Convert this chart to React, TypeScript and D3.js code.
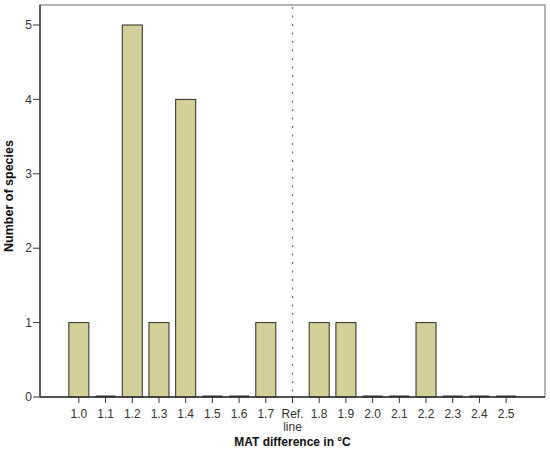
import React from "react";
import * as d3 from "d3";

const categories = ["1.0", "1.1", "1.2", "1.3", "1.4", "1.5", "1.6", "1.7", "Ref. line", "1.8", "1.9", "2.0", "2.1", "2.2", "2.3", "2.4", "2.5"];
const counts: (number | null)[] = [1, 0, 5, 1, 4, 0, 0, 1, null, 1, 1, 0, 0, 1, 0, 0, 0];
const yTicks = [0, 1, 2, 3, 4, 5];
const refCategory = "Ref. line";
const xTitle = "MAT difference in °C";
const yTitle = "Number of species";

const W = 550, H = 452;
const left = 40, right = 545, top = 5, bottom = 397;

export default function App() {
  const x = d3.scaleBand<string>().domain(categories).range([left, right]).paddingInner(0.25).paddingOuter(1.08);
  const y = d3.scaleLinear().domain([0, 5]).range([bottom, 25]);
  const font = "'Liberation Sans', Arial, sans-serif";
  const bw = x.bandwidth();
  return (
    <svg width={W} height={H} style={{ position: "absolute", left: 0, top: 0, background: "#fff" }} fontFamily={font}>
      <rect x={left} y={top} width={right - left} height={bottom - top} fill="none" stroke="#808080" strokeWidth={1.2} />
      {categories.map((c, i) => {
        const v = counts[i];
        if (v === null) return null;
        const x0 = x(c)!;
        if (v === 0) {
          return <line key={c} x1={x0} x2={x0 + bw} y1={y(0) - 0.5} y2={y(0) - 0.5} stroke="#333" strokeWidth={2} />;
        }
        return <rect key={c} x={x0} y={y(v)} width={bw} height={y(0) - y(v)} fill="#D4CF99" stroke="#2a2a2a" strokeWidth={1} />;
      })}
      <line x1={x(refCategory)! + bw / 2} x2={x(refCategory)! + bw / 2} y1={top + 2} y2={bottom} stroke="#777" strokeWidth={1.3} strokeDasharray="2,6.5" />
      <line x1={left} x2={left} y1={top} y2={bottom} stroke="#333" strokeWidth={1.3} />
      <line x1={left} x2={right} y1={bottom} y2={bottom} stroke="#333" strokeWidth={1.3} />
      {yTicks.map((t) => (
        <g key={t}>
          <line x1={left - 7} x2={left} y1={y(t)} y2={y(t)} stroke="#333" strokeWidth={1} />
          <text x={left - 8} y={y(t)} dy="0.35em" textAnchor="end" fontSize={12} fill="#333">{t}</text>
        </g>
      ))}
      {categories.map((c) => {
        const cx = x(c)! + bw / 2;
        const lines = c === refCategory ? ["Ref.", "line"] : [c];
        return (
          <g key={c}>
            <line x1={cx} x2={cx} y1={bottom} y2={bottom + 6} stroke="#333" strokeWidth={1} />
            {lines.map((l, j) => (
              <text key={j} x={cx} y={417.5 + j * 13} textAnchor="middle" fontSize={12} fill="#333">{l}</text>
            ))}
          </g>
        );
      })}
      <text x={(left + right) / 2} y={446} textAnchor="middle" fontSize={12} fontWeight="bold" fill="#111">{xTitle}</text>
      <text transform={`translate(13,${(top + bottom) / 2 - 5}) rotate(-90)`} textAnchor="middle" fontSize={12.5} fontWeight="bold" fill="#111">{yTitle}</text>
    </svg>
  );
}
